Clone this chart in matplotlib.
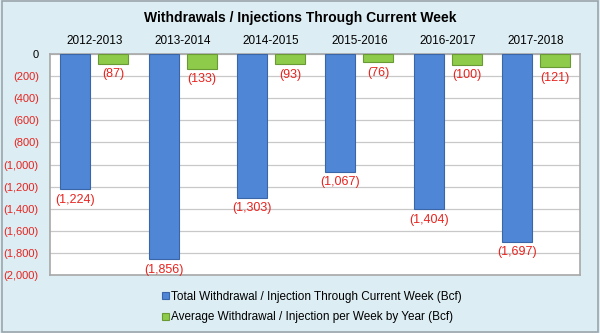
import matplotlib.pyplot as plt
import numpy as np
from matplotlib.ticker import FuncFormatter

plt.rcParams["font.family"] = ["Liberation Sans", "DejaVu Sans"]

seasons = ["2012-2013", "2013-2014", "2014-2015", "2015-2016", "2016-2017", "2017-2018"]
total_bcf = [-1224, -1856, -1303, -1067, -1404, -1697]
weekly_avg_bcf = [-87, -133, -93, -76, -100, -121]

series_names = [
    "Total Withdrawal / Injection Through Current Week (Bcf)",
    "Average Withdrawal / Injection per Week by Year (Bcf)",
]


def acct(v):
    v = int(round(v))
    if v < 0:
        return "({:,})".format(-v)
    return "{:,}".format(v)


fig = plt.figure(figsize=(6, 3.33), dpi=100)
fig.patch.set_facecolor("#dcedf3")
fig.patches.append(plt.Rectangle((0.003, 0.004), 0.994, 0.992, transform=fig.transFigure,
                                 fill=False, edgecolor="#9aa5ab", linewidth=1.2))

ax = fig.add_axes([0.0833, 0.174, 0.884, 0.664])
ax.set_facecolor("white")

x = np.arange(len(seasons))
w = 0.34
off = 0.215
ax.bar(x - off, total_bcf, w, color="#4f86d6", edgecolor="#3a66a8", linewidth=0.8,
       label=series_names[0], zorder=3)
ax.bar(x + off, weekly_avg_bcf, w, color="#8fcb4a", edgecolor="#6a9a35", linewidth=0.8,
       label=series_names[1], zorder=3)

for i in range(len(seasons)):
    ax.text(x[i] - off, total_bcf[i] - 40, acct(total_bcf[i]), ha="center", va="top",
            color="#e8231e", fontsize=9, zorder=4)
    ax.text(x[i] + off, weekly_avg_bcf[i] - 40, acct(weekly_avg_bcf[i]), ha="center", va="top",
            color="#e8231e", fontsize=9, zorder=4)

ax.set_xlim(-0.5, len(seasons) - 0.5)
ax.set_ylim(-2000, 0)
ax.set_yticks(np.arange(-2000, 1, 200))
ax.yaxis.set_major_formatter(FuncFormatter(lambda v, p: acct(v)))
ax.tick_params(axis="y", length=0, labelsize=8, pad=8)
fig.canvas.draw()
for lab in ax.get_yticklabels():
    lab.set_color("black" if lab.get_text() == "0" else "#e8231e")

ax.xaxis.tick_top()
ax.set_xticks(x)
ax.set_xticklabels(seasons)
ax.tick_params(axis="x", length=0, labelsize=8.5, pad=5)

ax.grid(axis="y", color="#c8c8c8", linewidth=0.9, zorder=0)
for s in ax.spines.values():
    s.set_color("#a8a8a8")
    s.set_linewidth(1.2)

fig.text(0.5, 0.945, "Withdrawals / Injections Through Current Week", ha="center", va="center",
         fontsize=10, fontweight="bold")

fig.legend(loc="upper left", bbox_to_anchor=(0.26, 0.145), frameon=False, fontsize=8.5,
           handlelength=0.6, handleheight=0.6, handletextpad=0.2, labelspacing=0.75,
           borderpad=0)

fig.savefig("out.png", dpi=100, facecolor=fig.get_facecolor())
